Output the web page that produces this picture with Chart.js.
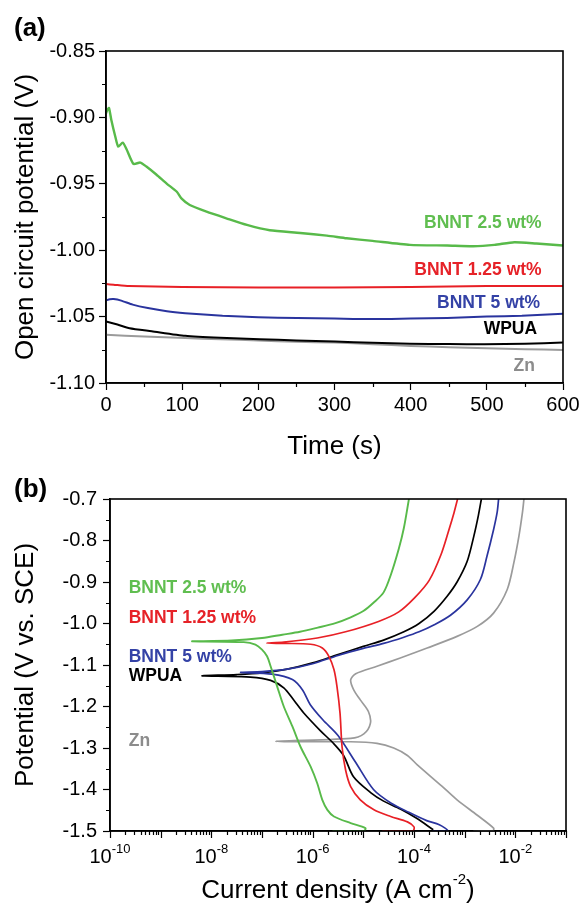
<!DOCTYPE html>
<html>
<head>
<meta charset="utf-8">
<script src="https://cdn.jsdelivr.net/npm/chart.js@4.4.0/dist/chart.umd.min.js"></script>
<style>
  html, body { margin: 0; padding: 0; background: #fff; }
  #wrap { position: relative; width: 584px; height: 903px; }
  canvas { position: absolute; left: 0; }
  #chartA { top: 0; }
  #chartB { top: 470px; }
</style>
</head>
<body>
<div id="wrap">
  <canvas id="chartA" width="584" height="470"></canvas>
  <canvas id="chartB" width="584" height="433"></canvas>
</div>
<script>
const FONT = 'Arial, "Liberation Sans", sans-serif';

// ---- (a) open circuit potential vs time ----
const tGreen = [0, 2, 4, 7, 12, 16, 22, 27, 36, 45, 53, 66, 80, 93, 99, 110, 132, 158, 185, 215, 255, 290, 316, 350, 399, 448, 482, 510, 536, 565, 600];
const eGreen = [-0.897, -0.894, -0.893, -0.902, -0.914, -0.922, -0.919, -0.924, -0.935, -0.934, -0.937, -0.943, -0.950, -0.956, -0.961, -0.966, -0.971, -0.976, -0.981, -0.985, -0.987, -0.989, -0.991, -0.993, -0.996, -0.9965, -0.997, -0.996, -0.994, -0.995, -0.9965];
const tRed = [0, 10, 30, 100, 200, 300, 400, 500, 600];
const eRed = [-1.0255, -1.026, -1.027, -1.0277, -1.028, -1.028, -1.0278, -1.027, -1.027];
const tBlue = [0, 5, 10, 20, 35, 55, 80, 104, 153, 200, 251, 300, 349, 400, 448, 500, 546, 600];
const eBlue = [-1.0378, -1.037, -1.0368, -1.038, -1.041, -1.0436, -1.046, -1.0474, -1.0494, -1.0505, -1.0511, -1.0515, -1.0519, -1.0515, -1.051, -1.050, -1.0494, -1.0479];
const tBlack = [0, 15, 31, 60, 104, 150, 202, 250, 301, 350, 399, 450, 497, 550, 600];
const eBlack = [-1.0537, -1.056, -1.0587, -1.061, -1.0645, -1.066, -1.067, -1.068, -1.0688, -1.0697, -1.0705, -1.0707, -1.0708, -1.0705, -1.0695];
const tGray = [0, 50, 104, 150, 200, 250, 300, 350, 400, 450, 500, 550, 600];
const eGray = [-1.0637, -1.065, -1.0662, -1.067, -1.068, -1.069, -1.0695, -1.0708, -1.0721, -1.073, -1.0738, -1.0745, -1.0751];

const xTicksA = [0, 100, 200, 300, 400, 500, 600];
const xMinorA = [50, 150, 250, 350, 450, 550];
const yMinorA = [-0.875, -0.925, -0.975, -1.025, -1.075];

const labelTextA = ['BNNT 2.5 wt%', 'BNNT 1.25 wt%', 'BNNT 5 wt%', 'WPUA', 'Zn'];
const labelXA = [572, 572, 570, 566, 563];
const labelYA = [-0.9795, -1.0154, -1.040, -1.0596, -1.0877];

// ---- (b) polarization curves, log10 of current density vs potential ----
const greenLogJ = [-5.61, -4.98, -4.96, -5.25, -5.58, -5.71, -5.81, -5.91, -6.04, -6.24, -6.40, -6.57, -6.70, -6.83, -6.90, -7.00, -7.13, -7.36, -8.38, -7.60, -7.00, -6.60, -6.25, -5.90, -5.55, -5.25, -5.00, -4.80, -4.60, -4.45, -4.30, -4.20, -4.10];
const greenE = [-1.500, -1.499, -1.493, -1.481, -1.465, -1.449, -1.425, -1.385, -1.345, -1.297, -1.248, -1.200, -1.152, -1.103, -1.079, -1.063, -1.051, -1.045, -1.043, -1.041, -1.035, -1.027, -1.020, -1.010, -0.999, -0.985, -0.970, -0.950, -0.925, -0.880, -0.820, -0.770, -0.700];
const redLogJ = [-4.63, -4.02, -4.00, -4.13, -4.46, -4.79, -5.06, -5.25, -5.35, -5.42, -5.46, -5.52, -5.58, -5.68, -5.81, -6.04, -6.57, -6.91, -6.57, -5.91, -5.35, -4.70, -4.30, -3.98, -3.70, -3.47, -3.31, -3.21, -3.14];
const redE = [-1.500, -1.499, -1.490, -1.478, -1.465, -1.449, -1.425, -1.393, -1.353, -1.297, -1.216, -1.152, -1.111, -1.079, -1.059, -1.050, -1.048, -1.047, -1.045, -1.035, -1.020, -0.995, -0.972, -0.937, -0.896, -0.835, -0.774, -0.733, -0.700];
const blackLogJ = [-3.62, -3.94, -4.27, -4.60, -4.85, -5.19, -5.39, -5.58, -5.85, -6.18, -6.37, -6.57, -6.83, -7.23, -7.88, -8.18, -7.50, -7.00, -6.50, -6.00, -5.50, -5.00, -4.60, -4.20, -3.90, -3.60, -3.35, -3.15, -2.95, -2.82, -2.73, -2.67];
const blackE = [-1.497, -1.470, -1.447, -1.428, -1.408, -1.370, -1.318, -1.290, -1.258, -1.215, -1.185, -1.155, -1.137, -1.129, -1.127, -1.126, -1.123, -1.119, -1.110, -1.095, -1.075, -1.055, -1.040, -1.020, -1.000, -0.970, -0.935, -0.900, -0.850, -0.790, -0.740, -0.700];
const blueLogJ = [-3.64, -3.34, -3.50, -3.75, -4.10, -4.45, -4.80, -5.15, -5.50, -5.80, -6.05, -6.20, -6.40, -6.80, -7.42, -7.00, -6.50, -6.00, -5.50, -5.00, -4.60, -4.20, -3.90, -3.60, -3.28, -2.95, -2.69, -2.56, -2.43, -2.36, -2.33];
const blueE = [-1.500, -1.499, -1.485, -1.475, -1.455, -1.433, -1.400, -1.335, -1.270, -1.232, -1.195, -1.160, -1.135, -1.122, -1.118, -1.116, -1.110, -1.097, -1.077, -1.060, -1.048, -1.033, -1.020, -1.003, -0.980, -0.943, -0.894, -0.838, -0.774, -0.733, -0.700];
const grayLogJ = [-2.83, -2.44, -2.43, -2.75, -3.15, -3.45, -3.94, -4.13, -4.40, -4.73, -5.25, -6.73, -5.25, -4.99, -4.86, -4.90, -5.06, -5.19, -5.25, -5.15, -4.73, -4.27, -3.74, -3.15, -2.75, -2.43, -2.16, -2.03, -1.93, -1.86, -1.83];
const grayE = [-1.500, -1.499, -1.493, -1.462, -1.425, -1.392, -1.340, -1.318, -1.300, -1.289, -1.285, -1.284, -1.277, -1.266, -1.240, -1.212, -1.184, -1.160, -1.136, -1.121, -1.103, -1.083, -1.059, -1.031, -1.007, -0.975, -0.918, -0.854, -0.790, -0.733, -0.700];

const xDecadesB = [-10, -9, -8, -7, -6, -5, -4, -3, -2, -1];
const xLabelExpB = [-10, -8, -6, -4, -2];
const yMinorB = [-0.75, -0.85, -0.95, -1.05, -1.15, -1.25, -1.35, -1.45];

const labelTextB = ['BNNT 2.5 wt%', 'BNNT 1.25 wt%', 'BNNT 5 wt%', 'WPUA', 'Zn'];
const labelXB = 2.34e-10;
const labelYB = [-0.914, -0.987, -1.082, -1.128, -1.284];

const colors = ['rgb(88,186,74)', 'rgb(232,32,38)', 'rgb(42,52,158)', '#000', 'rgb(155,155,155)'];
const labelColors = ['rgb(96,190,80)', 'rgb(230,34,40)', 'rgb(52,66,166)', '#000', 'rgb(140,140,140)'];

Chart.defaults.font.family = FONT;
Chart.defaults.color = '#000';

function pts(xs, ys) { return xs.map((x, i) => ({ x: x, y: ys[i] })); }
function logPts(lj, e) { return lj.map((l, i) => ({ x: Math.pow(10, l), y: e[i] })); }

function drawTicks(ctx, scale, values, len) {
  ctx.beginPath();
  values.forEach(v => {
    const p = Math.round(scale.getPixelForValue(v)) + 0.5;
    if (scale.isHorizontal()) { ctx.moveTo(p, scale.top); ctx.lineTo(p, scale.top + len); }
    else { ctx.moveTo(scale.right, p); ctx.lineTo(scale.right - len, p); }
  });
  ctx.stroke();
}

function frame(ctx, a) {
  ctx.strokeStyle = '#000';
  ctx.lineWidth = 1.6;
  ctx.strokeRect(a.left, a.top, a.right - a.left, a.bottom - a.top);
}

function dataset(data, i, width, tension) {
  return { data: data, borderColor: colors[i], borderWidth: width, pointRadius: 0, showLine: true, tension: tension, fill: false };
}

// panel (a)
const decorA = {
  id: 'decorA',
  afterDraw(chart) {
    const { ctx, chartArea, scales: { x, y } } = chart;
    ctx.save();
    frame(ctx, chartArea);
    ctx.lineWidth = 1.2;
    drawTicks(ctx, x, xMinorA, 4);
    drawTicks(ctx, y, yMinorA, 4);
    ctx.font = 'bold 17.5px ' + FONT;
    ctx.textAlign = 'right';
    ctx.textBaseline = 'middle';
    labelTextA.forEach((t, i) => {
      ctx.fillStyle = labelColors[i];
      ctx.fillText(t, x.getPixelForValue(labelXA[i]), y.getPixelForValue(labelYA[i]));
    });
    ctx.fillStyle = '#000';
    ctx.textAlign = 'left';
    ctx.textBaseline = 'alphabetic';
    ctx.font = 'bold 26px ' + FONT;
    ctx.fillText('(a)', 14, 36);
    ctx.restore();
  }
};

new Chart(document.getElementById('chartA'), {
  type: 'scatter',
  data: {
    datasets: [
      dataset(pts(tGreen, eGreen), 0, 2.4, 0.2),
      dataset(pts(tRed, eRed), 1, 2, 0.2),
      dataset(pts(tBlue, eBlue), 2, 2, 0.2),
      dataset(pts(tBlack, eBlack), 3, 2, 0.2),
      dataset(pts(tGray, eGray), 4, 2, 0.2)
    ]
  },
  options: {
    responsive: false,
    animation: false,
    layout: { padding: { top: 51, right: 21, left: 0, bottom: 0 } },
    plugins: { legend: { display: false }, tooltip: { enabled: false } },
    scales: {
      x: {
        type: 'linear', min: 0, max: 600,
        afterBuildTicks: s => { s.ticks = xTicksA.map(v => ({ value: v })); },
        ticks: { font: { size: 20 }, padding: 3, maxRotation: 0, color: '#000' },
        grid: { drawOnChartArea: false, tickLength: 7, tickWidth: 1.2, tickColor: '#000' },
        border: { color: '#000', width: 1.6 },
        title: { display: true, text: 'Time (s)', font: { size: 26 }, padding: { top: 0, bottom: 8 } },
        afterFit: s => { s.height = 87; }
      },
      y: {
        type: 'linear', min: -1.10, max: -0.85,
        ticks: { stepSize: 0.05, font: { size: 20 }, padding: 4, color: '#000', callback: v => v.toFixed(2) },
        grid: { drawOnChartArea: false, tickLength: 7, tickWidth: 1.2, tickColor: '#000' },
        border: { color: '#000', width: 1.6 },
        title: { display: true, text: 'Open circuit potential (V)', font: { size: 26 }, padding: { top: 10, bottom: 0 } },
        afterFit: s => { s.width = 106; }
      }
    }
  },
  plugins: [decorA]
});

// panel (b)
const decorB = {
  id: 'decorB',
  afterDraw(chart) {
    const { ctx, chartArea, scales: { x, y } } = chart;
    ctx.save();
    frame(ctx, chartArea);
    ctx.lineWidth = 1.2;
    const majors = xDecadesB.map(e => Math.pow(10, e));
    const minors = [];
    xDecadesB.slice(0, -1).forEach(e => { for (let k = 2; k <= 9; k++) minors.push(k * Math.pow(10, e)); });
    drawTicks(ctx, x, majors, 7);
    drawTicks(ctx, x, minors, 4);
    drawTicks(ctx, y, yMinorB, 4);

    // decade labels 10^n
    ctx.fillStyle = '#000';
    ctx.textAlign = 'left';
    ctx.textBaseline = 'alphabetic';
    const base = chartArea.bottom + 32;
    xLabelExpB.forEach(e => {
      const px = x.getPixelForValue(Math.pow(10, e));
      ctx.font = '20px ' + FONT;
      const w1 = ctx.measureText('10').width;
      ctx.font = '13px ' + FONT;
      const sup = String(e);
      const w2 = ctx.measureText(sup).width;
      const left = px - (w1 + w2) / 2;
      ctx.font = '20px ' + FONT;
      ctx.fillText('10', left, base);
      ctx.font = '13px ' + FONT;
      ctx.fillText(sup, left + w1, base - 10);
    });

    // axis title with superscript
    const tb = chartArea.bottom + 67;
    const p1 = 'Current density (A cm', p2 = '-2', p3 = ')';
    ctx.font = '26px ' + FONT;
    const a1 = ctx.measureText(p1).width, a3 = ctx.measureText(p3).width;
    ctx.font = '15px ' + FONT;
    const a2 = ctx.measureText(p2).width;
    let tx = (chartArea.left + chartArea.right) / 2 - (a1 + a2 + a3) / 2;
    ctx.font = '26px ' + FONT;
    ctx.fillText(p1, tx, tb);
    ctx.font = '15px ' + FONT;
    ctx.fillText(p2, tx + a1, tb - 14);
    ctx.font = '26px ' + FONT;
    ctx.fillText(p3, tx + a1 + a2, tb);

    // curve labels
    ctx.font = 'bold 17.5px ' + FONT;
    ctx.textBaseline = 'middle';
    labelTextB.forEach((t, i) => {
      ctx.fillStyle = labelColors[i];
      ctx.fillText(t, x.getPixelForValue(labelXB), y.getPixelForValue(labelYB[i]));
    });

    ctx.fillStyle = '#000';
    ctx.textBaseline = 'alphabetic';
    ctx.font = 'bold 26px ' + FONT;
    ctx.fillText('(b)', 14, 27);
    ctx.restore();
  }
};

new Chart(document.getElementById('chartB'), {
  type: 'scatter',
  data: {
    datasets: [
      dataset(logPts(greenLogJ, greenE), 0, 1.9, 0.3),
      dataset(logPts(redLogJ, redE), 1, 1.7, 0.3),
      dataset(logPts(blueLogJ, blueE), 2, 1.7, 0.3),
      dataset(logPts(blackLogJ, blackE), 3, 1.7, 0.3),
      dataset(logPts(grayLogJ, grayE), 4, 1.7, 0.3)
    ]
  },
  options: {
    responsive: false,
    animation: false,
    layout: { padding: { top: 29, right: 18, left: 0, bottom: 0 } },
    plugins: { legend: { display: false }, tooltip: { enabled: false } },
    scales: {
      x: {
        type: 'logarithmic', min: 1e-10, max: 1e-1,
        ticks: { display: false },
        grid: { display: false },
        border: { color: '#000', width: 1.6 },
        afterFit: s => { s.height = 72; }
      },
      y: {
        type: 'linear', min: -1.5, max: -0.7,
        ticks: { stepSize: 0.1, font: { size: 20 }, padding: 6, color: '#000', callback: v => v.toFixed(1) },
        grid: { drawOnChartArea: false, tickLength: 7, tickWidth: 1.2, tickColor: '#000' },
        border: { color: '#000', width: 1.6 },
        title: { display: true, text: 'Potential (V vs. SCE)', font: { size: 26 }, padding: { top: 10, bottom: 0 } },
        afterFit: s => { s.width = 110; }
      }
    }
  },
  plugins: [decorB]
});
</script>
</body>
</html>
